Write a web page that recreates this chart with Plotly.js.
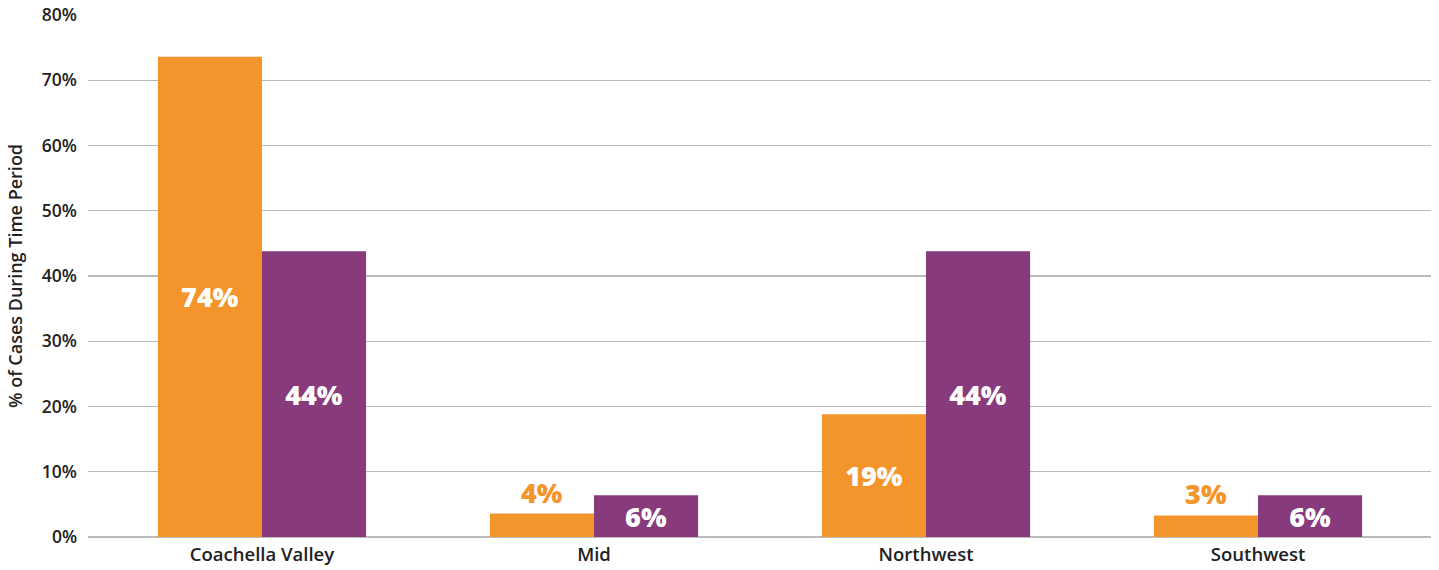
<!DOCTYPE html>
<html>
<head>
<meta charset="utf-8">
<script src="https://cdn.plot.ly/plotly-3.0.1.min.js"></script>
<style>html,body{margin:0;padding:0;background:#fff;}#chart{width:1439px;height:570px;}</style>
</head>
<body>
<div id="chart"></div>
<script>
const categories = ["Coachella Valley", "Mid", "Northwest", "Southwest"];
const seriesA = [73.6, 3.6, 18.8, 3.3];
const seriesB = [43.8, 6.4, 43.8, 6.4];
const seriesAPositions = ["inside", "outside", "inside", "outside"];
const yTickVals = [0, 10, 20, 30, 40, 50, 60, 70, 80];
const yTickText = ["0%", "10%", "20%", "30%", "40%", "50%", "60%", "70%", "80%"];

const ORANGE = "#F4952B";
const PURPLE = "#873B7D";
const FONT = "Open Sans, sans-serif";

const traces = [
  {
    type: "bar", x: categories, y: seriesA, marker: {color: ORANGE},
    texttemplate: "%{y:.0f}%", textposition: seriesAPositions,
    insidetextanchor: "middle",
    insidetextfont: {family: FONT, size: 27, color: "#ffffff", weight: 800},
    outsidetextfont: {family: FONT, size: 27, color: ORANGE, weight: 800},
    constraintext: "none", cliponaxis: false, hoverinfo: "skip"
  },
  {
    type: "bar", x: categories, y: seriesB, marker: {color: PURPLE},
    texttemplate: "%{y:.0f}%", textposition: "inside",
    insidetextanchor: "middle",
    insidetextfont: {family: FONT, size: 27, color: "#ffffff", weight: 800},
    constraintext: "none", cliponaxis: false, hoverinfo: "skip"
  }
];

const layout = {
  width: 1439, height: 570,
  margin: {l: 88, r: 8, t: 15, b: 33, pad: 0},
  paper_bgcolor: "#ffffff", plot_bgcolor: "#ffffff",
  showlegend: false,
  barmode: "group", bargap: 0.373, bargroupgap: 0,
  font: {family: FONT, color: "#222222"},
  xaxis: {
    type: "category", range: [-0.524, 3.521],
    showgrid: false, showline: false, zeroline: false, ticks: "",
    tickfont: {family: FONT, size: 18.5, color: "#222222", weight: 600},
    ticklabelstandoff: 4
  },
  yaxis: {
    range: [0, 80], tickvals: yTickVals, ticktext: yTickText,
    showgrid: true, gridcolor: "#BBBBBB", gridwidth: 1.3,
    zeroline: true, zerolinecolor: "#BBBBBB", zerolinewidth: 1.3,
    showline: false, ticks: "",
    tickfont: {family: FONT, size: 17.5, color: "#222222", weight: 600},
    ticklabelstandoff: 10,
    title: {text: "% of Cases During Time Period", font: {family: FONT, size: 18, color: "#222222", weight: 600}, standoff: 14}
  }
};

Plotly.newPlot("chart", traces, layout, {displayModeBar: false, staticPlot: true});
</script>
</body>
</html>
